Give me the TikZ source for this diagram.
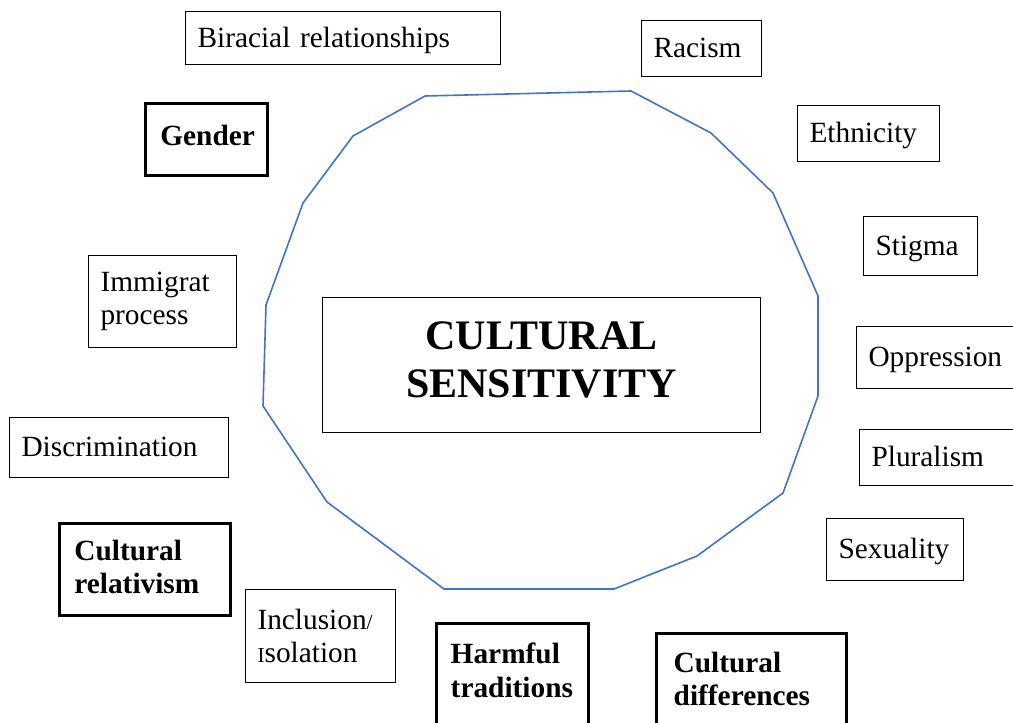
\documentclass[tikz,border=0pt]{standalone}
\usepackage{fontspec}
\setmainfont{Liberation Serif}
\usepackage{tikz}
\definecolor{ringblue}{HTML}{4472C4}

\begin{document}
\begin{tikzpicture}[x=0.75pt, y=-0.75pt,
        topic/.style={rectangle, draw=black, line width=0.8pt, anchor=north west, align=left, inner xsep=9pt,
                      font=\fontsize{22}{25}\selectfont},
        single/.style={text height=18pt, text depth=4pt},
        keytopic/.style={topic, line width=2.6pt, inner xsep=11pt, font=\fontsize{22}{25}\selectfont\bfseries},
        core/.style={rectangle, draw=black, line width=0.8pt, anchor=north west, align=center, inner xsep=9pt,
                     font=\fontsize{31.5}{36}\selectfont\bfseries},
        ring/.style={draw=ringblue, line width=1.2pt, line join=round}
      ]
        \useasboundingbox (0,0) rectangle (1013,723);
        \clip (0,0) rectangle (1013,723);

        % polygon round the core
        \draw[ring] (425,96) -- (631,91) -- (711,133) -- (773,193) -- (818,296) -- (818,396)
                 -- (783,493) -- (697,556) -- (614,589) -- (444,589) -- (327,502) -- (263,406)
                 -- (266,305) -- (303,203) -- (353,136) -- cycle;

        \node[core]      (core)        at (322,297) [text width=310.5pt, text depth=44pt, minimum height=101.25pt] {CULTURAL\\SENSITIVITY};

        \node[topic, single] (biracial)  at (185,11)  [text width=218.25pt, minimum height=39.75pt] {Biracial relationships};
        \node[topic, single] (racism)    at (641,20)  [text width=72pt,     minimum height=42pt]    {Racism};
        \node[keytopic]  (gender)        at (144,102) [text width=69.5pt, text height=15pt, text depth=6pt, minimum height=54pt] {Gender};
        \node[topic, single] (ethnicity) at (797,105) [text width=88.5pt,   minimum height=42pt]    {Ethnicity};
        \node[topic, single] (stigma)    at (863,216) [text width=67.5pt,   minimum height=44.25pt] {Stigma};
        \node[topic]     (immigrat)      at (88,255)  [text width=93pt,     minimum height=69pt]    {Immigrat\\process};
        \node[topic, single] (oppression) at (856,326) [text width=109.5pt, minimum height=46.5pt]  {Oppression};
        \node[topic, single] (discrim)   at (9,417)   [text width=146.25pt, minimum height=45pt]    {Discrimination};
        \node[topic, single] (pluralism) at (859,429) [text width=109.5pt,  minimum height=42pt]    {Pluralism};
        \node[keytopic]  (relativism)    at (58,522)  [text width=106.25pt, text depth=29.5pt, minimum height=69pt] {Cultural\\relativism};
        \node[topic, single] (sexuality) at (826,518) [text width=84.75pt,  minimum height=46.5pt]  {Sexuality};
        \node[topic]     (inclusion)     at (245,589) [text width=94.5pt,   minimum height=69.75pt]
              {Inclusion{\fontsize{16}{16}\selectfont /}\\{\fontsize{16}{16}\selectfont I}solation};
        \node[keytopic]  (harmful)       at (435,622) [inner xsep=10.5pt, text width=93pt, text depth=34pt, minimum height=78.75pt] {Harmful\\traditions};
        \node[keytopic]  (differences)   at (655,632) [inner xsep=12.75pt, text width=117pt, text depth=34pt, minimum height=76.5pt] {Cultural\\differences};
      \end{tikzpicture}
\end{document}
